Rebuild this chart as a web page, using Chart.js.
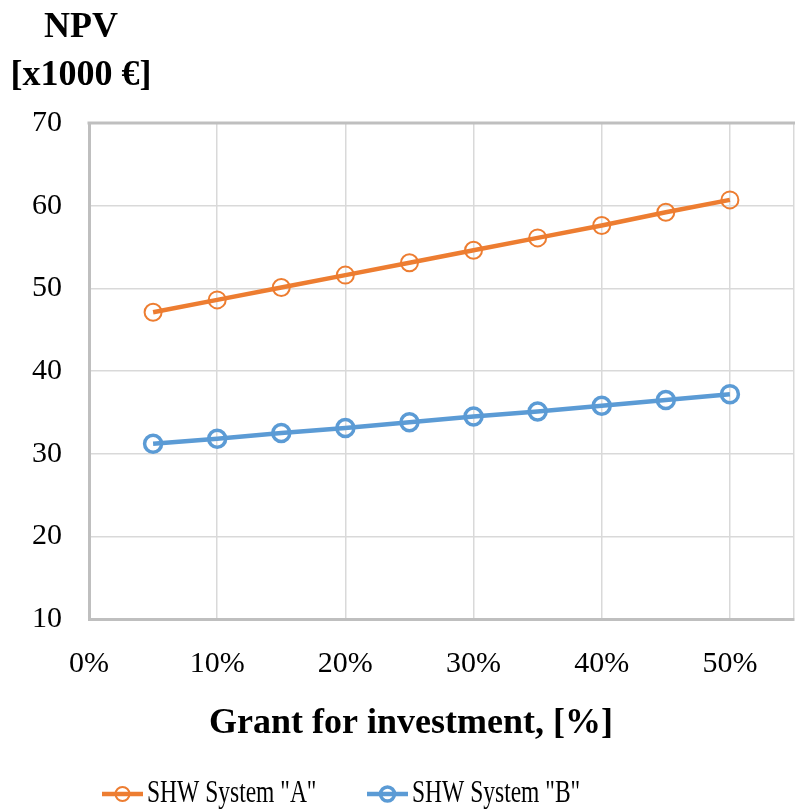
<!DOCTYPE html>
<html><head><meta charset="utf-8">
<script src="https://cdn.jsdelivr.net/npm/chart.js@4"></script>
<style>html,body{margin:0;padding:0;background:#fff}</style>
</head><body>
<canvas id="c" width="795" height="811" style="display:block;width:795px;height:811px"></canvas>
<script>
const grants = [5, 10, 15, 20, 25, 30, 35, 40, 45, 50];
const systemA = [47.1, 48.6, 50.1, 51.6, 53.1, 54.6, 56.1, 57.6, 59.2, 60.7];
const systemB = [31.2, 31.8, 32.5, 33.1, 33.8, 34.5, 35.1, 35.8, 36.5, 37.2];
const xTicks = [0, 10, 20, 30, 40, 50, 55];
const xLabelled = [0, 10, 20, 30, 40, 50];
const yTicks = [10, 20, 30, 40, 50, 60, 70];
const seriesNames = ['SHW System "A"', 'SHW System "B"'];
const seriesColors = ['#ED7D31', '#5B9BD5'];
const yTitle = ['NPV', '[x1000 €]'];
const xTitle = 'Grant for investment, [%]';

const FONT = '"Liberation Serif", "Times New Roman", serif';

const decor = {
  id: 'decor',
  afterDraw(chart) {
    const { ctx, chartArea: a } = chart;
    ctx.save();
    ctx.strokeStyle = '#bfbfbf';
    ctx.lineWidth = 3;
    ctx.beginPath();
    ctx.moveTo(a.left - 1.5, a.top);
    ctx.lineTo(a.right + 1, a.top);
    ctx.stroke();
    ctx.fillStyle = '#000';
    ctx.textAlign = 'center';
    ctx.textBaseline = 'middle';
    ctx.font = 'bold 36px ' + FONT;
    ctx.fillText(yTitle[0], 81, 28);
    ctx.fillText(yTitle[1], 81, 76);
    ctx.font = 'bold 36px ' + FONT;
    ctx.fillText(xTitle, 411, 724);
    const items = [
      { x0: 102, x1: 143, tx: 147 },
      { x0: 367, x1: 408, tx: 412 }
    ];
    const ly = 794;
    items.forEach((it, i) => {
      const ds = chart.data.datasets[i];
      ctx.strokeStyle = seriesColors[i];
      ctx.lineWidth = 4.5;
      ctx.beginPath();
      ctx.moveTo(it.x0, ly);
      ctx.lineTo(it.x1, ly);
      ctx.stroke();
      ctx.lineWidth = i === 0 ? 2 : 3.5;
      ctx.beginPath();
      ctx.arc((it.x0 + it.x1) / 2, ly, 7, 0, Math.PI * 2);
      ctx.stroke();
      ctx.save();
      ctx.fillStyle = '#000';
      ctx.textAlign = 'left';
      ctx.textBaseline = 'middle';
      ctx.font = '32px ' + FONT;
      ctx.translate(it.tx, ly);
      ctx.scale(0.735, 1);
      ctx.fillText(ds.label, 0, 0);
      ctx.restore();
    });
    ctx.restore();
  }
};

new Chart(document.getElementById('c'), {
  type: 'line',
  data: {
    datasets: [
      {
        label: seriesNames[0],
        data: grants.map((g, i) => ({ x: g, y: systemA[i] })),
        borderColor: seriesColors[0],
        backgroundColor: 'rgba(0,0,0,0)',
        borderWidth: 4.5,
        pointRadius: 8.5,
        pointBorderWidth: 2,
        pointBorderColor: seriesColors[0],
        pointBackgroundColor: 'rgba(0,0,0,0)',
        tension: 0
      },
      {
        label: seriesNames[1],
        data: grants.map((g, i) => ({ x: g, y: systemB[i] })),
        borderColor: seriesColors[1],
        backgroundColor: 'rgba(0,0,0,0)',
        borderWidth: 4.5,
        pointRadius: 8.5,
        pointBorderWidth: 3.5,
        pointBorderColor: seriesColors[1],
        pointBackgroundColor: 'rgba(0,0,0,0)',
        tension: 0
      }
    ]
  },
  options: {
    responsive: false,
    animation: false,
    devicePixelRatio: 1,
    layout: { autoPadding: false, padding: { top: 123, left: 0, right: 1, bottom: 132 } },
    plugins: { legend: { display: false }, tooltip: { enabled: false }, title: { display: false } },
    scales: {
      x: {
        type: 'linear',
        min: 0,
        max: 55,
        afterBuildTicks: (s) => { s.ticks = xTicks.map(v => ({ value: v })); },
        afterFit: (s) => { s.height = 60; s.paddingRight = 0; s.paddingLeft = 0; },
        ticks: {
          font: { family: FONT, size: 30 },
          color: '#000',
          padding: 27,
          maxRotation: 0,
          autoSkip: false,
          callback: (v) => xLabelled.includes(v) ? v + '%' : ''
        },
        grid: { color: '#d9d9d9', lineWidth: 1.5, drawTicks: false },
        border: { color: '#bfbfbf', width: 3 }
      },
      y: {
        min: 10,
        max: 70,
        afterBuildTicks: (s) => { s.ticks = yTicks.map(v => ({ value: v })); },
        afterFit: (s) => { s.width = 89; s.paddingTop = 0; s.paddingBottom = 0; },
        ticks: {
          font: { family: FONT, size: 30 },
          color: '#000',
          padding: 27
        },
        grid: { color: '#d9d9d9', lineWidth: 1.5, drawTicks: false },
        border: { color: '#bfbfbf', width: 3 }
      }
    }
  },
  plugins: [decor]
});
</script>
</body></html>
